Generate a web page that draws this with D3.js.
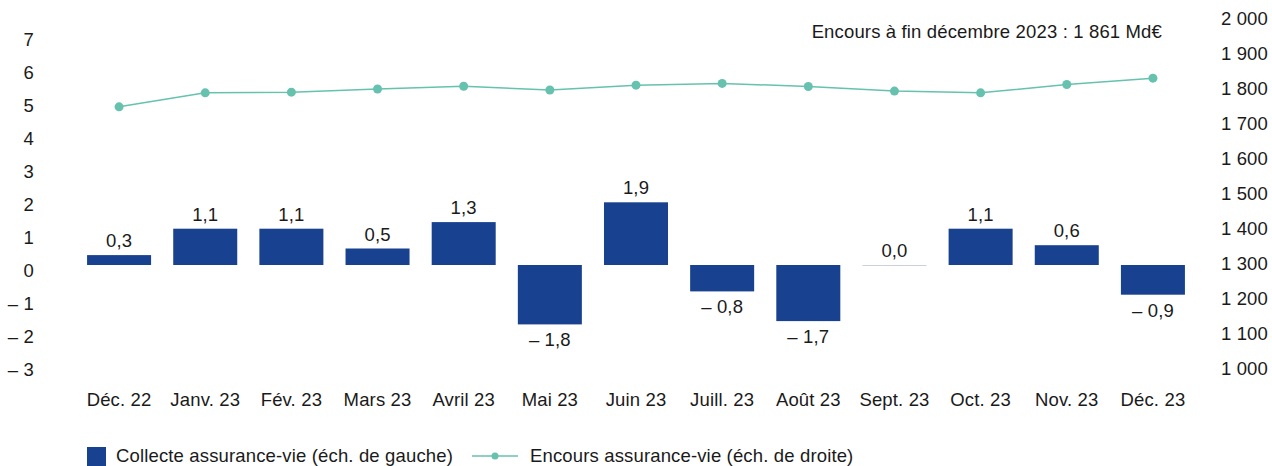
<!doctype html>
<html>

<head>
  <meta charset="utf-8">
  <title>Assurance-vie</title>
  <style>
    body { margin: 0; background: #fff; }
    svg { display: block; font-family: 'Liberation Sans', Arial, sans-serif; letter-spacing: 0.15px; }
    text { fill: #1a1a1a; }
  </style>
</head>

<body>
  <svg width="1272" height="466"></svg>

  <script src="https://d3js.org/d3.v7.min.js"></script>
  <script>
    // data
    const months = ['Déc. 22', 'Janv. 23', 'Fév. 23', 'Mars 23', 'Avril 23', 'Mai 23', 'Juin 23',
      'Juill. 23', 'Août 23', 'Sept. 23', 'Oct. 23', 'Nov. 23', 'Déc. 23'];
    const collecte = [0.3, 1.1, 1.1, 0.5, 1.3, -1.8, 1.9, -0.8, -1.7, 0.0, 1.1, 0.6, -0.9];
    const encours = [1747, 1787, 1789, 1798, 1806, 1795, 1809, 1814, 1805, 1792, 1787, 1811, 1829];
    const leftTicks = [-3, -2, -1, 0, 1, 2, 3, 4, 5, 6, 7];
    const rightTicks = [1000, 1100, 1200, 1300, 1400, 1500, 1600, 1700, 1800, 1900, 2000];
    const note = 'Encours à fin décembre 2023 : 1 861 Md€';
    const legendBar = 'Collecte assurance-vie (éch. de gauche)';
    const legendLine = 'Encours assurance-vie (éch. de droite)';

    const blue = '#18418f';
    const teal = '#66c2ae';
    const fs = 18.5;

    const fr = d3.formatLocale({ decimal: ',', thousands: ' ', grouping: [3], currency: ['', ' €'], minus: '\u2013 ' });
    const fmtVal = fr.format('.1f');
    const fmtL = fr.format('d');
    const fmtR = fr.format(',d');

    const svg = d3.select('svg');

    const x = d3.scaleBand()
      .domain(months)
      .range([76, 1196])
      .paddingInner(0.257)
      .paddingOuter(0.1285);
    const yL = d3.scaleLinear().domain([-3, 7]).range([364, 34]);
    const yR = d3.scaleLinear().domain([1000, 2000]).range([368.3, 18.3]);

    // axe gauche
    const gl = svg.append('g')
      .attr('transform', 'translate(34, 5.5)')
      .call(d3.axisLeft(yL).tickValues(leftTicks).tickSize(0).tickPadding(0).tickFormat(fmtL));
    gl.select('.domain').remove();

    // axe droit
    const gr = svg.append('g')
      .attr('transform', 'translate(1268, 0)')
      .call(d3.axisLeft(yR).tickValues(rightTicks).tickSize(0).tickPadding(0).tickFormat(fmtR));
    gr.select('.domain').remove();

    // axe x
    const gx = svg.append('g')
      .attr('transform', 'translate(0, 393)')
      .call(d3.axisBottom(x).tickSize(0).tickPadding(0));
    gx.select('.domain').remove();

    svg.selectAll('.tick text')
      .attr('font-size', fs)
      .attr('font-family', null)
      .attr('fill', '#1a1a1a');

    // barres
    svg.append('g').selectAll('rect')
      .data(collecte)
      .join('rect')
      .attr('x', (d, i) => x(months[i]))
      .attr('width', x.bandwidth())
      .attr('y', d => Math.min(yL(d), yL(0)))
      .attr('height', d => Math.max(1, Math.abs(yL(d) - yL(0))))
      .attr('fill', d => d === 0 ? '#c9d0df' : blue);

    // étiquettes
    svg.append('g').selectAll('text')
      .data(collecte)
      .join('text')
      .attr('x', (d, i) => x(months[i]) + x.bandwidth() / 2)
      .attr('y', d => d >= 0 ? yL(d) - 8 : yL(d) + 22)
      .attr('text-anchor', 'middle')
      .attr('font-size', fs)
      .text(d => fmtVal(d));

    // courbe
    const line = d3.line()
      .x((d, i) => x(months[i]) + x.bandwidth() / 2)
      .y(d => yR(d));

    svg.append('path')
      .datum(encours)
      .attr('fill', 'none')
      .attr('stroke', teal)
      .attr('stroke-width', 1.5)
      .attr('d', line);

    svg.append('g').selectAll('circle')
      .data(encours)
      .join('circle')
      .attr('cx', (d, i) => x(months[i]) + x.bandwidth() / 2)
      .attr('cy', d => yR(d))
      .attr('r', 4.5)
      .attr('fill', teal);

    // note
    svg.append('text')
      .attr('x', 1162)
      .attr('y', 38)
      .attr('text-anchor', 'end')
      .attr('font-size', fs)
      .text(note);

    // légende
    const lg = svg.append('g').attr('transform', 'translate(0, 456)');
    lg.append('rect').attr('x', 87).attr('y', -9).attr('width', 19).attr('height', 19).attr('fill', blue);
    lg.append('text').attr('x', 116).attr('y', 6).attr('font-size', fs).text(legendBar);
    lg.append('line').attr('x1', 472).attr('x2', 518).attr('y1', 0).attr('y2', 0)
      .attr('stroke', teal).attr('stroke-width', 1.5);
    lg.append('circle').attr('cx', 495).attr('cy', 0).attr('r', 3.5).attr('fill', teal);
    lg.append('text').attr('x', 530).attr('y', 6).attr('font-size', fs).text(legendLine);
  </script>
</body>

</html>
